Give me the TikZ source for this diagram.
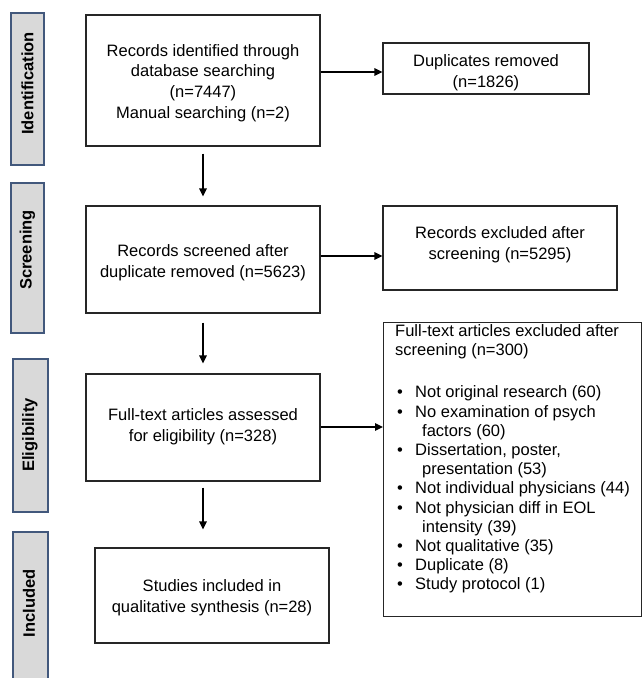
\documentclass[tikz,border=0pt]{standalone}
\usepackage{fontspec}
\setmainfont{Liberation Sans}
\usetikzlibrary{arrows.meta}
\definecolor{sidefill}{HTML}{D9D9D9}
\definecolor{sidedraw}{HTML}{42587C}
\begin{document}
\begin{tikzpicture}[x=1pt,y=-1pt,
  box/.style={draw=black!85,line width=1.2pt,rectangle,inner sep=0pt},
  boxtext/.style={inner sep=0pt,align=center,font=\fontsize{16.5}{20.6}\selectfont},
  sidebox/.style={draw=sidedraw,fill=sidefill,line width=1.4pt,rectangle,inner sep=0pt},
  sidelabel/.style={rotate=90,font=\fontsize{16.5}{20}\selectfont\bfseries,inner sep=0pt},
  arr/.style={draw=black,line width=1.3pt,-{Triangle[length=8pt,width=7.5pt]}}]
\useasboundingbox (0,0) rectangle (642,678);
% side labels
\node[sidebox,minimum width=33pt,minimum height=152pt] (sid) at (27.5,89) {};
\node[sidelabel] (tid) at (27.5,83.5) {Identification};
\node[sidebox,minimum width=33pt,minimum height=150pt] (ssc) at (27.5,258) {};
\node[sidelabel] (tsc) at (27.5,250) {Screening};
\node[sidebox,minimum width=35pt,minimum height=153pt] (sel) at (30.5,435.5) {};
\node[sidelabel] (tel) at (30,435) {Eligibility};
\node[sidebox,minimum width=35pt,minimum height=170pt] (sin) at (30.5,617) {};
\node[sidelabel] (tin) at (29,603.5) {Included};
% main boxes
\node[box,minimum width=234pt,minimum height=131pt] (idb) at (203,80.5) {};
\node[boxtext] (idt) at (203,83)
  {Records identified through\\database searching\\(n=7447)\\Manual searching (n=2)};
\node[box,minimum width=206pt,minimum height=51pt] (dup) at (486,68.5) {};
\node[boxtext] (dupt) at (486,73) {Duplicates removed\\(n=1826)};
\node[box,minimum width=234pt,minimum height=107pt] (scr) at (203,259.5) {};
\node[boxtext] (scrt) at (203,263) {Records screened after\\duplicate removed (n=5623)};
\node[box,minimum width=234pt,minimum height=84pt] (rex) at (500,248) {};
\node[boxtext] (rext) at (500,244.5) {Records excluded after\\screening (n=5295)};
\node[box,minimum width=234pt,minimum height=107pt] (elb) at (203,427.5) {};
\node[boxtext] (elt) at (203,426.5) {Full-text articles assessed\\for eligibility (n=328)};
\node[box,minimum width=234pt,minimum height=95pt] (inb) at (212,595.5) {};
\node[boxtext] (int) at (212,597.5) {Studies included in\\qualitative synthesis (n=28)};
\node[box,minimum width=258pt,minimum height=294pt,anchor=north west] (ftx) at (383,322) {};
\node[anchor=north west,inner sep=0pt,align=left,font=\fontsize{16.5}{19.2}\selectfont] (ftt) at (395,324.5)
  {Full-text articles excluded after\\
   screening (n=300)\\[22.8pt]
   \makebox[20pt][l]{\hspace{2pt}•}Not original research (60)\\
   \makebox[20pt][l]{\hspace{2pt}•}No examination of psych\\
   \hspace*{27pt}factors (60)\\
   \makebox[20pt][l]{\hspace{2pt}•}Dissertation, poster,\\
   \hspace*{27pt}presentation (53)\\
   \makebox[20pt][l]{\hspace{2pt}•}Not individual physicians (44)\\
   \makebox[20pt][l]{\hspace{2pt}•}Not physician diff in EOL\\
   \hspace*{27pt}intensity (39)\\
   \makebox[20pt][l]{\hspace{2pt}•}Not qualitative (35)\\
   \makebox[20pt][l]{\hspace{2pt}•}Duplicate (8)\\
   \makebox[20pt][l]{\hspace{2pt}•}Study protocol (1)};
% connectors
\draw[arr] (idb.east |- 0,72) -- (dup.west |- 0,72);
\draw[arr] ([yshift=-7pt]idb.south) -- ([yshift=9pt]scr.north);
\draw[arr] (scr.east |- 0,256) -- (rex.west |- 0,256);
\draw[arr] ([yshift=-9pt]scr.south) -- ([yshift=10pt]elb.north);
\draw[arr] (elb.east |- 0,427) -- (ftx.west |- 0,427);
\draw[arr] ([yshift=-6pt]elb.south -| idb.south) -- ([yshift=18pt]inb.north -| idb.south);
\end{tikzpicture}
\end{document}
